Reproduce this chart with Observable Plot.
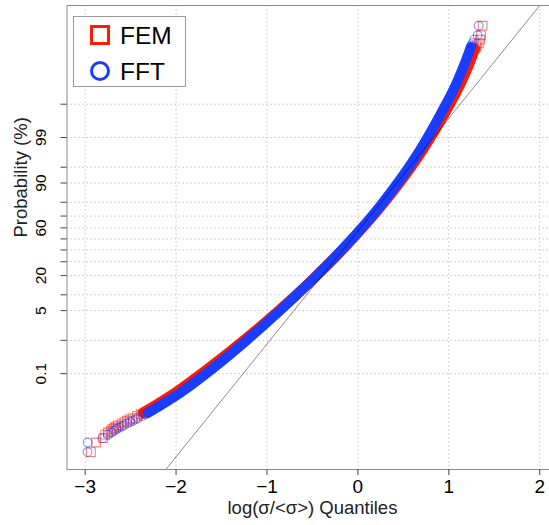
<!DOCTYPE html>
<html>
<head>
<meta charset="utf-8">
<script src="https://cdn.jsdelivr.net/npm/d3@7"></script>
<script src="https://cdn.jsdelivr.net/npm/@observablehq/plot@0.6"></script>
<style>
  html, body { margin: 0; padding: 0; background: #fff; overflow: hidden; }
  #wrap { position: relative; width: 549px; height: 525px; }
  #legend { position: absolute; left: 0; top: 0; }
</style>
</head>
<body>
<div id="wrap"></div>
<script>
// Normal probability plot of log(σ/<σ>) for the FEM and FFT solutions.
// y values are theoretical normal quantiles; the axis is labelled in probability (%).

// x axis ticks
const xTicks = [-3, -2, -1, 0, 1, 2];

// y axis ticks (probability, %) and the labels that are printed
const yTickProbs = [0.1, 1, 5, 10, 20, 30, 40, 50, 60, 70, 80, 90, 95, 99, 99.9];
const yTickLabels = ["0.1", "", "5", "", "20", "", "", "", "60", "", "", "90", "", "99", ""];

// FEM: sparse extreme points (theoretical quantile, sample quantile)
const femTailZ = [-4.89, -4.67, -4.57, -4.49, -4.44, -4.40, -4.36, -4.33, -4.30, -4.275, -4.235, -4.20, -4.17, -4.14, -4.11, -4.06, -4.02,
                  4.36, 4.40, 4.44, 4.49, 4.57, 4.67, 4.89];
const femTailQ = [-2.937, -2.88, -2.80, -2.78, -2.75, -2.72, -2.70, -2.68, -2.66, -2.64, -2.60, -2.57, -2.54, -2.51, -2.48, -2.43, -2.39,
                  1.285, 1.30, 1.31, 1.33, 1.345, 1.355, 1.372];
// FEM: dense body of the sample
const femBodyZ = [-3.990, -3.518, -2.949, -2.321, -1.646, -0.926, -0.151, 0.720, 1.386, 2.074, 2.876, 3.542, 4.092, 4.36];
const femBodyQ = [-2.365, -2.002, -1.630, -1.250, -0.870, -0.495, -0.127, 0.243, 0.493, 0.723, 0.953, 1.123, 1.238, 1.285];

// FFT: sparse extreme points
const fftTailZ = [-4.89, -4.67, -4.57, -4.49, -4.44, -4.40, -4.36, -4.33, -4.30, -4.275, -4.235, -4.20, -4.17, -4.14, -4.11, -4.06, -4.02,
                  4.40, 4.44, 4.49, 4.57, 4.67, 4.89];
const fftTailQ = [-2.975, -2.972, -2.81, -2.75, -2.71, -2.68, -2.656, -2.627, -2.598, -2.574, -2.537, -2.504, -2.475, -2.447, -2.418, -2.370, -2.332,
                  1.242, 1.25, 1.262, 1.28, 1.317, 1.328];
// FFT: dense body of the sample
const fftBodyZ = [-3.990, -3.518, -2.949, -2.321, -1.646, -0.926, -0.151, 0.720, 1.386, 2.074, 2.876, 3.542, 4.092, 4.40];
const fftBodyQ = [-2.310, -1.947, -1.584, -1.221, -0.858, -0.495, -0.132, 0.231, 0.473, 0.693, 0.913, 1.078, 1.188, 1.242];

// reference line (theoretical quantile = a + b * sample quantile)
const refIntercept = 0.178;
const refSlope = 2.588;

const seriesNames = ["FEM", "FFT"];
const seriesColors = ["#ff1a00", "#1a3cff"];
const seriesSymbols = ["square", "circle"];

// inverse of the standard normal CDF (Acklam's rational approximation)
function probit(p) {
  const a = [-3.969683028665376e+01, 2.209460984245205e+02, -2.759285104469687e+02, 1.383577518672690e+02, -3.066479806614716e+01, 2.506628277459239e+00];
  const b = [-5.447609879822406e+01, 1.615858368580409e+02, -1.556989798598866e+02, 6.680131188771972e+01, -1.328068155288572e+01];
  const c = [-7.784894002430293e-03, -3.223964580411365e-01, -2.400758277161838e+00, -2.549732539343734e+00, 4.374664141464968e+00, 2.938163982698783e+00];
  const d = [7.784695709041462e-03, 3.224671290700398e-01, 2.445134137142996e+00, 3.754408661907416e+00];
  const plow = 0.02425, phigh = 1 - plow;
  if (p < plow) {
    const q = Math.sqrt(-2 * Math.log(p));
    return (((((c[0]*q+c[1])*q+c[2])*q+c[3])*q+c[4])*q+c[5]) / ((((d[0]*q+d[1])*q+d[2])*q+d[3])*q+1);
  }
  if (p > phigh) {
    const q = Math.sqrt(-2 * Math.log(1 - p));
    return -(((((c[0]*q+c[1])*q+c[2])*q+c[3])*q+c[4])*q+c[5]) / ((((d[0]*q+d[1])*q+d[2])*q+d[3])*q+1);
  }
  const q = p - 0.5, r = q * q;
  return (((((a[0]*r+a[1])*r+a[2])*r+a[3])*r+a[4])*r+a[5])*q / (((((b[0]*r+b[1])*r+b[2])*r+b[3])*r+b[4])*r+1);
}

const zip = (zs, qs) => zs.map((z, i) => ({z, q: qs[i]}));
const femTail = zip(femTailZ, femTailQ), femBody = zip(femBodyZ, femBodyQ);
const fftTail = zip(fftTailZ, fftTailQ), fftBody = zip(fftBodyZ, fftBodyQ);

const yTicks = yTickProbs.map((p, i) => ({z: probit(p / 100), label: yTickLabels[i]}));
const xDomain = [-3.2, 2.2];
const refLine = xDomain.map(q => ({q, z: refIntercept + refSlope * q}));

const font = "'Liberation Sans', Arial, Helvetica, sans-serif";
const gridStyle = {stroke: "#c4c4c4", strokeOpacity: 1, strokeWidth: 1, strokeDasharray: "1.5,2.5"};

const chart = Plot.plot({
  width: 549,
  height: 525,
  marginLeft: 66.5,
  marginRight: -8.4,
  marginTop: 5,
  marginBottom: 56,
  x: {domain: xDomain},
  y: {domain: [-5.289, 5.354]},
  style: {fontFamily: font, background: "#fff", color: "#000", overflow: "visible"},
  marks: [
    Plot.ruleX(xTicks, {x: d => d, ...gridStyle}),
    Plot.ruleY(yTicks, {y: "z", ...gridStyle}),
    // FEM
    Plot.line(femBody, {x: "q", y: "z", stroke: seriesColors[0], strokeWidth: 10.5, strokeLinecap: "round", curve: "monotone-x"}),
    Plot.dot(femTail, {x: "q", y: "z", symbol: "square", r: 4.9, stroke: seriesColors[0], strokeOpacity: 0.55, strokeWidth: 1.1, fill: "none"}),
    // FFT
    Plot.line(fftBody, {x: "q", y: "z", stroke: seriesColors[1], strokeWidth: 10, strokeLinecap: "round", curve: "monotone-x"}),
    Plot.dot(fftTail, {x: "q", y: "z", symbol: "circle", r: 4.4, stroke: seriesColors[1], strokeOpacity: 0.55, strokeWidth: 1.1, fill: "none"}),
    // reference line
    Plot.line(refLine, {x: "q", y: "z", stroke: "#000", strokeOpacity: 0.45, strokeWidth: 1, clip: true}),
    Plot.frame({stroke: "#8a8a8a", strokeWidth: 1}),
    Plot.axisX(xTicks, {tickSize: 6, tickPadding: 4, fontSize: 19, stroke: "#444", label: null}),
    Plot.axisY(yTicks.map(d => d.z), {tickSize: 6, tickFormat: () => "", stroke: "#444", label: null}),
    Plot.text(yTicks.filter(d => d.label), {y: "z", text: "label", frameAnchor: "left", dx: -25.5, rotate: -90, textAnchor: "middle", lineAnchor: "middle", fontSize: 15.5, fill: "#000"}),
    Plot.text(["log(σ/<σ>) Quantiles"], {text: d => d, frameAnchor: "bottom", dy: 39, lineAnchor: "middle", fontSize: 18.5, fill: "#222"}),
    Plot.text(["Probability (%)"], {text: d => d, frameAnchor: "left", dx: -46.3, rotate: -90, lineAnchor: "middle", fontSize: 18.5, fill: "#222"})
  ]
});

const wrap = document.getElementById("wrap");
wrap.appendChild(chart);

// legend box in the upper-left corner of the panel
const legend = d3.select(wrap).append("svg")
  .attr("id", "legend")
  .attr("width", 549).attr("height", 120)
  .style("font-family", font);
legend.append("rect")
  .attr("x", 73.5).attr("y", 16.5).attr("width", 112).attr("height", 70)
  .attr("fill", "#fff").attr("stroke", "#9a9a9a");
const item = legend.selectAll("g.item").data(seriesNames).join("g")
  .attr("class", "item")
  .attr("transform", (d, i) => `translate(100, ${35 + i * 36})`);
item.filter((d, i) => seriesSymbols[i] === "square").append("rect")
  .attr("x", -8.5).attr("y", -8.5).attr("width", 17).attr("height", 17)
  .attr("fill", "none").attr("stroke", seriesColors[0]).attr("stroke-width", 3);
item.filter((d, i) => seriesSymbols[i] === "circle").append("circle")
  .attr("r", 8.5)
  .attr("fill", "none").attr("stroke", seriesColors[1]).attr("stroke-width", 3);
item.append("text")
  .attr("x", 20).attr("y", 9)
  .attr("font-size", 24.5)
  .attr("fill", "#000")
  .text(d => d);
</script>
</body>
</html>
